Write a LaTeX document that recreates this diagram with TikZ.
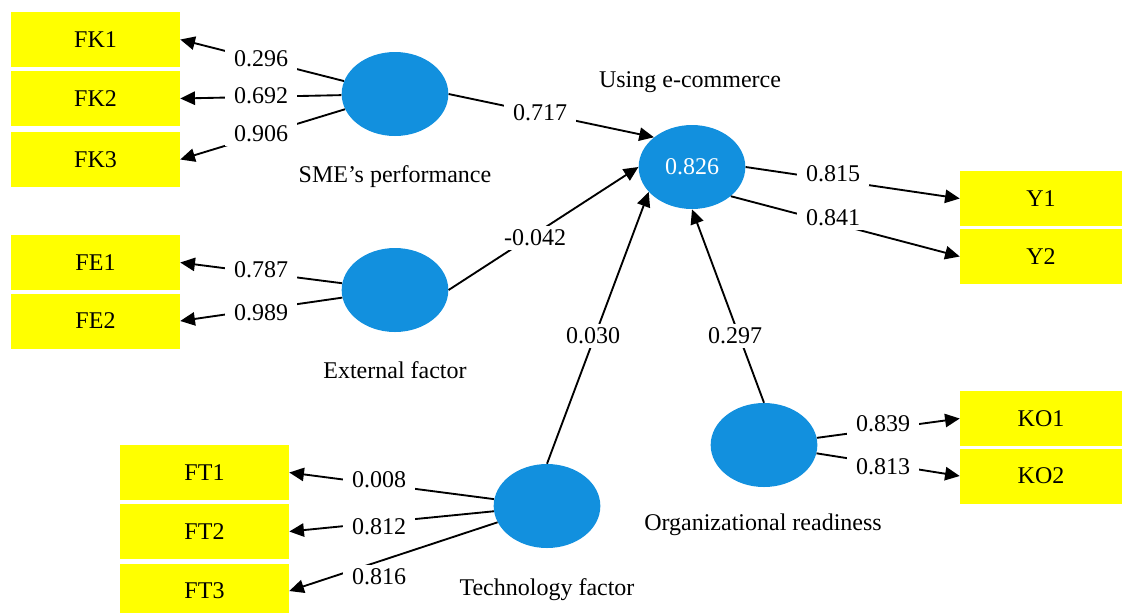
\documentclass[tikz,border=0pt]{standalone}
\usepackage{fontspec}
\setmainfont{Liberation Serif}
\usetikzlibrary{arrows.meta,shapes.geometric}
\definecolor{latblue}{RGB}{18,144,222}
\definecolor{indyellow}{RGB}{255,255,0}
\begin{document}
\begin{tikzpicture}[x=0.75pt,y=-0.75pt,
    font=\fontsize{18}{20}\selectfont,
    ind/.style={fill=indyellow,minimum width=126.75pt,minimum height=41.25pt,inner sep=0pt},
    indr/.style={ind,minimum width=121.5pt},
    lat/.style={ellipse,fill=latblue,minimum width=80pt,minimum height=63pt,inner sep=0pt},
    edge/.style={line width=1.4pt,-{Triangle[length=11pt,width=10pt]}},
    lbl/.style={fill=white,inner xsep=7pt,inner ysep=3pt}]

\useasboundingbox (0,0) rectangle (1123,612);

% indicators
\foreach \n/\x/\y in {FK1/95.5/39.5,FK2/95.5/98.5,FK3/95.5/159.5,FE1/95.5/262.5,FE2/95.5/321,
                      FT1/204.5/472.5,FT2/204.5/531.5,FT3/204.5/591}
    \node[ind] (\n) at (\x,\y) {\n};
\foreach \n/\x/\y in {Y1/1041/198.5,Y2/1041/256.5,KO1/1041/418.5,KO2/1041/476}
    \node[indr] (\n) at (\x,\y) {\n};

% latent variables
\node[lat] (sme) at (395,94) {};
\node[lat] (ext) at (395,290) {};
\node[lat] (ecom) at (692,167) {\color{white}0.826};
\node[lat] (tech) at (547,506) {};
\node[lat] (org) at (764,445) {};

\node (smelab) at (395,177) {SME’s performance};
\node (extlab) at (395,370) {External factor};
\node (ecomlab) at (690,82) {Using e-commerce};
\node (techlab) at (547,590) {Technology factor};
\node (orglab) at (763,525) {Organizational readiness};

% outer loadings
\foreach \i/\a/\b/\v/\x/\y in {1/sme/FK1.east/0.296/261/59,2/sme/FK2.east/0.692/261/96,3/sme/FK3.east/0.906/261/134,
                         4/ext/FE1.east/0.787/261/270,5/ext/FE2.east/0.989/261/313,
                         6/tech/FT1.east/0.008/379/480,7/tech/FT2.east/0.812/379/527,8/tech/FT3.east/0.816/379/577,
                         9/org/KO1.west/0.839/883/424,10/org/KO2.west/0.813/883/467,
                         11/ecom.east/Y1.west/0.815/833/174,12/ecom.-37/Y2.west/0.841/833/218}
    \draw[edge] (\a) -- (\b) node[lbl] (w\i) at (\x,\y) {\v};

% path coefficients
\foreach \i/\a/\b/\v/\x/\y in {1/sme.east/ecom.142/0.717/540/113,2/ext.east/ecom.west/-0.042/535/238,
                         3/tech.north/ecom.-150/0.030/593/336,4/org.north/ecom.south/0.297/735/336}
    \draw[edge] (\a) -- (\b) node[lbl] (p\i) at (\x,\y) {\v};
\end{tikzpicture}
\end{document}
